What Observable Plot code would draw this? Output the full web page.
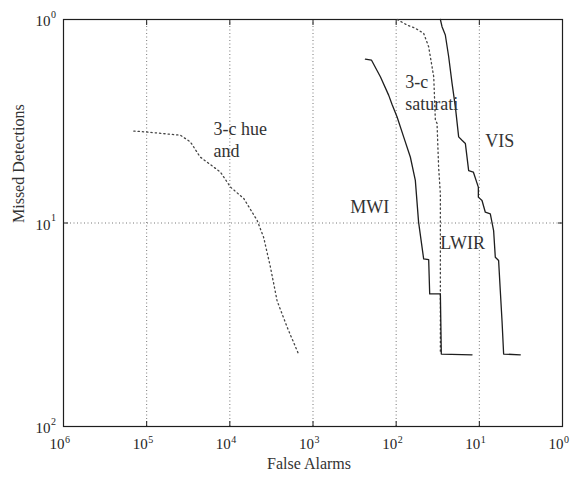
<!DOCTYPE html>
<html><head><meta charset="utf-8">
<script src="https://cdn.jsdelivr.net/npm/d3@7"></script>
<script src="https://cdn.jsdelivr.net/npm/@observablehq/plot@0.6"></script>
<style>body{margin:0;background:#fff}</style>
</head><body><div id="chart"></div>
<script>
// Tick values and labels (as printed)
const xTicks = [1e-6, 1e-5, 1e-4, 1e-3, 1e-2, 1e-1, 1];
const xTickLabels = ["6", "5", "4", "3", "2", "1", "0"];
const yTicks = [0.01, 0.1, 1];
const yTickLabels = ["2", "1", "0"];

// Series
const hueX = [7.0e-6, 1.0e-5, 2.55e-5, 3.36e-5, 4.4e-5, 7.7e-5, 1.02e-4, 1.47e-4, 2.13e-4, 2.55e-4, 3.07e-4, 3.7e-4, 4.9e-4, 6.7e-4];
const hueY = [0.283, 0.28, 0.27, 0.25, 0.211, 0.178, 0.15, 0.132, 0.103, 0.085, 0.061, 0.0415, 0.0307, 0.0227];

const satX = [0.0103, 0.0135, 0.017, 0.0214, 0.0246, 0.0283, 0.0296, 0.031, 0.0324, 0.034, 0.034, 0.034];
const satY = [1.0, 0.94, 0.905, 0.855, 0.734, 0.523, 0.32, 0.309, 0.188, 0.139, 0.045, 0.0227];

const mwiX = [0.00427, 0.00504, 0.00646, 0.00812, 0.00893, 0.01026, 0.0123, 0.0148, 0.017, 0.0186, 0.0214, 0.0246, 0.0253, 0.034, 0.0349, 0.0817];
const mwiY = [0.639, 0.632, 0.523, 0.425, 0.382, 0.332, 0.265, 0.211, 0.162, 0.101, 0.0667, 0.0661, 0.0448, 0.0448, 0.0227, 0.0225];

const visX = [0.034, 0.0356, 0.039, 0.0428, 0.047, 0.0515, 0.0564, 0.0619, 0.0679, 0.0744, 0.0847, 0.0973, 0.0973, 0.1077, 0.118, 0.1355, 0.1485, 0.1556, 0.1705, 0.1787, 0.1874, 0.196, 0.311];
const visY = [1.0, 0.922, 0.839, 0.656, 0.485, 0.372, 0.265, 0.255, 0.246, 0.181, 0.178, 0.15, 0.134, 0.129, 0.113, 0.111, 0.0918, 0.0679, 0.0654, 0.0465, 0.0331, 0.0227, 0.0225];

// Annotations (anchored at data values)
const annText = ["3-c hue", "and", "3-c", "saturati", "VIS", "MWI", "LWIR"];
const annX = [6.35e-5, 6.35e-5, 0.0129, 0.0129, 0.118, 0.00281, 0.034];
const annY = [0.27, 0.21, 0.46, 0.358, 0.235, 0.1114, 0.0749];

const zip = (xs, ys) => xs.map((x, i) => ({x, y: ys[i]}));
const ann = annText.map((t, i) => ({t, x: annX[i], y: annY[i]}));
const xt = xTicks.map((v, i) => ({v, e: xTickLabels[i]}));
const yt = yTicks.map((v, i) => ({v, e: yTickLabels[i]}));

const ink = "#1e1e1e";
const chart = Plot.plot({
  width: 577, height: 477,
  marginLeft: 63, marginRight: 15, marginTop: 19, marginBottom: 51,
  style: {fontFamily: "'Liberation Serif', 'Times New Roman', serif", background: "#fff", color: ink},
  x: {type: "log", domain: [1e-6, 1]},
  y: {type: "log", domain: [0.01, 1]},
  marks: [
    Plot.gridX(xTicks.slice(1, -1), {stroke: "#777", strokeOpacity: 1, strokeDasharray: "1,2.5", strokeWidth: 1}),
    Plot.gridY(yTicks.slice(1, -1), {stroke: "#777", strokeOpacity: 1, strokeDasharray: "1,2.5", strokeWidth: 1}),
    Plot.axisX({anchor: "bottom", ticks: xTicks, tickSize: -5, tickFormat: () => "", label: null, stroke: ink}),
    Plot.axisX({anchor: "top", ticks: xTicks, tickSize: -5, tickFormat: () => "", label: null, stroke: ink}),
    Plot.axisY({anchor: "left", ticks: yTicks, tickSize: -5, tickFormat: () => "", label: null, stroke: ink}),
    Plot.axisY({anchor: "right", ticks: yTicks, tickSize: -5, tickFormat: () => "", label: null, stroke: ink}),
    Plot.frame({stroke: ink, strokeWidth: 1.2}),
    // tick labels
    Plot.text(xt, {x: "v", frameAnchor: "bottom", dy: 22, dx: 1, text: () => "10", textAnchor: "end", fontSize: 15, fill: ink}),
    Plot.text(xt, {x: "v", frameAnchor: "bottom", dy: 16, dx: 1.5, text: "e", textAnchor: "start", fontSize: 10, fill: ink}),
    Plot.text(yt, {y: "v", frameAnchor: "left", dx: -13, dy: 2, text: () => "10", textAnchor: "end", fontSize: 15, fill: ink}),
    Plot.text(yt, {y: "v", frameAnchor: "left", dx: -12.5, dy: -5, text: "e", textAnchor: "start", fontSize: 10, fill: ink}),
    // axis titles
    Plot.text(["False Alarms"], {frameAnchor: "bottom", dy: 42, dx: -4, text: d => d, fontSize: 16, letterSpacing: "1.6px", fill: "#333"}),
    Plot.text(["Missed Detections"], {frameAnchor: "left", dx: -45, rotate: -90, text: d => d, fontSize: 16, letterSpacing: "1.8px", fill: "#333"}),
    // curves
    Plot.line(zip(hueX, hueY), {x: "x", y: "y", stroke: "#444", strokeWidth: 1.3, strokeDasharray: "1.3,3"}),
    Plot.line(zip(satX, satY), {x: "x", y: "y", stroke: "#444", strokeWidth: 1.3, strokeDasharray: "1.3,3"}),
    Plot.line(zip(mwiX, mwiY), {x: "x", y: "y", stroke: ink, strokeWidth: 1.3}),
    Plot.line(zip(visX, visY), {x: "x", y: "y", stroke: ink, strokeWidth: 1.3}),
    // annotations
    Plot.text(ann, {x: "x", y: "y", text: "t", textAnchor: "start", lineAnchor: "bottom", fontSize: 18, fill: "#333"})
  ]
});
document.getElementById("chart").appendChild(chart);
</script>
</body></html>
